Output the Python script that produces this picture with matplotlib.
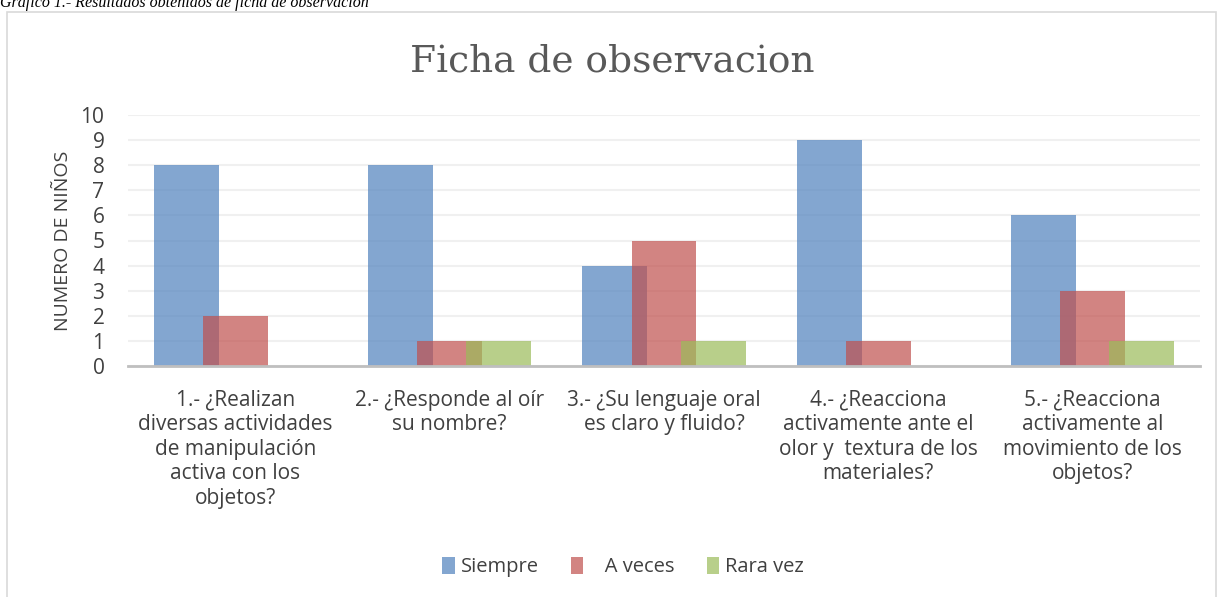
import numpy as np
import matplotlib.pyplot as plt
from matplotlib.patches import Rectangle

# Data
categorias = [
    "1.- ¿Realizan\ndiversas actividades\nde manipulación\nactiva con los\nobjetos?",
    "2.- ¿Responde al oír\nsu nombre?",
    "3.- ¿Su lenguaje oral\nes claro y fluido?",
    "4.- ¿Reacciona\nactivamente ante el\nolor y  textura de los\nmateriales?",
    "5.- ¿Reacciona\nactivamente al\nmovimiento de los\nobjetos?",
]
siempre = [8, 8, 4, 9, 6]
a_veces = [2, 1, 5, 1, 3]
rara_vez = [0, 1, 1, 0, 1]
series_nombres = ["Siempre", "   A veces", "Rara vez"]
colores = ["#4f81bd", "#c0504d", "#9bbb59"]

plt.rcParams['font.family'] = ['Open Sans', 'DejaVu Sans']

fig = plt.figure(figsize=(12.24, 5.97), dpi=100)

# outer chart border
fig.patches.append(Rectangle((7 / 1224, -0.1), 1209 / 1224, 1.1 - 12 / 597,
                             transform=fig.transFigure, fill=False,
                             edgecolor="#d9d9d9", linewidth=1.2))

# caption (cut at the top like the source)
fig.text(0.0, 1 - 7 / 597, "Grafico 1.- Resultados obtenidos de ficha de observacion",
         family="Liberation Serif", style="italic", fontsize=11.5, va="baseline", ha="left")

ax = fig.add_axes([128 / 1224, 1 - 366 / 597, 1072 / 1224, 251 / 597])

x = np.arange(len(categorias))
ancho = 0.303
paso = 0.229
for i, (vals, nombre, c) in enumerate(zip([siempre, a_veces, rara_vez], series_nombres, colores)):
    ax.bar(x + (i - 1) * paso, vals, width=ancho, color=c, alpha=0.7,
           edgecolor="none", label=nombre, zorder=3)

ax.set_xlim(-0.5, len(categorias) - 0.5)
ax.set_ylim(0, 10)
ax.set_yticks(range(0, 11))
ax.yaxis.grid(True, color="#f0f0f0", linewidth=1.5, zorder=0)
ax.set_xticks(x)
ax.set_xticklabels(categorias, fontsize=15, color="#404040", linespacing=1.22)
ax.tick_params(axis="both", length=0, labelsize=15, labelcolor="#404040")
ax.tick_params(axis="x", pad=17)
ax.tick_params(axis="y", pad=17)
for s in ["top", "right", "left"]:
    ax.spines[s].set_visible(False)
ax.spines["bottom"].set_color("#bfbfbf")
ax.spines["bottom"].set_linewidth(2)
ax.spines["bottom"].set_zorder(4)

ax.set_ylabel("NUMERO DE NIÑOS", fontsize=14, color="#404040", labelpad=6)

fig.text(0.5, 1 - 62 / 597, "Ficha de observacion", ha="center", va="center",
         family="DejaVu Serif", fontsize=27, color="#595959")

fig.legend(loc="center", bbox_to_anchor=(0.509, 1 - 567 / 597), ncol=3, frameon=False,
           fontsize=14.5, handlelength=0.6, handleheight=0.9, handletextpad=0.3,
           columnspacing=1.6, labelcolor="#404040")

fig.savefig("out.png", dpi=100)
